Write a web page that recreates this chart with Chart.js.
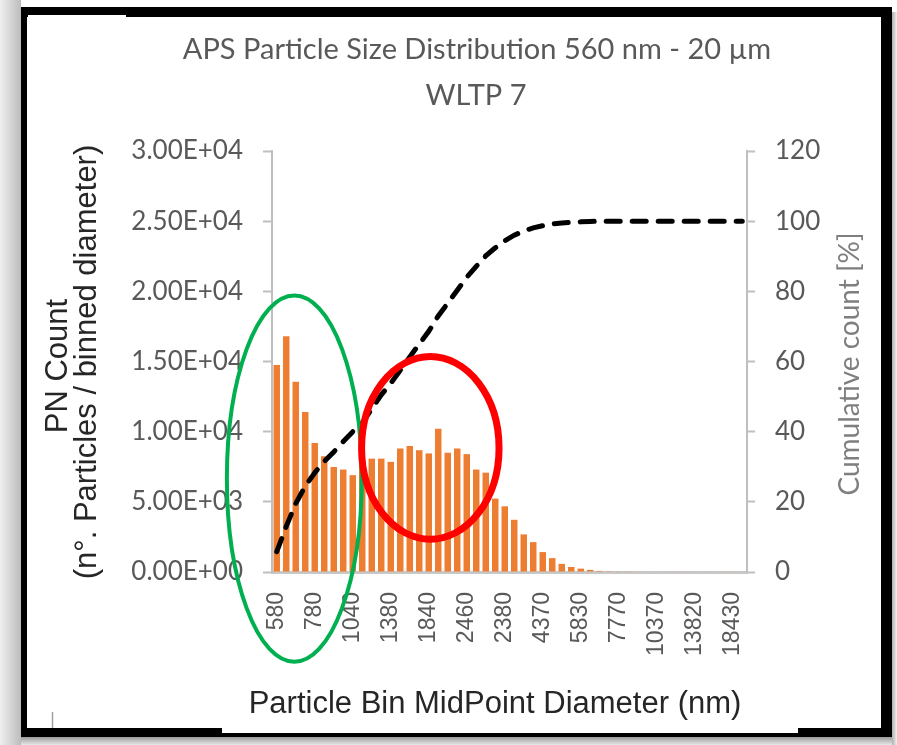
<!DOCTYPE html>
<html>
<head>
<meta charset="utf-8">
<script src="https://cdn.jsdelivr.net/npm/chart.js@4.4.1/dist/chart.umd.min.js"></script>
<style>
html, body { margin: 0; padding: 0; background: #fff; }
#wrap { position: relative; width: 897px; height: 745px; }
</style>
</head>
<body>
<div id="wrap"><canvas id="myGraficoAPS"></canvas></div>
<script>
// bin midpoints (nm) - every 4th one is shown on the axis
var binLabels = ["580","630","670","720","780","840","900","970","1040","1110",
  "1200","1290","1380","1490","1600","1720","1840","1980","2130","2290",
  "2460","2640","2840","3050","2380","3520","3790","4070","4370","4700",
  "5050","5430","5830","6260","6730","7230","7770","8350","8980","9650",
  "10370","11140","11970","12860","13820","14860","15960","17150","18430","19810"];

// PN count per bin
var pnCount = [14750,16800,13550,11400,9200,8250,7480,7300,6900,7600,
  8080,8080,7850,8800,8980,8680,8450,10200,8500,8800,
  8400,7300,7080,5230,4680,3720,2680,2130,1420,990,
  580,360,240,150,80,60,50,50,40,40,
  40,30,30,30,30,30,30,30,30,30];

// cumulative count [%]
var cumCount = [5.8,13,19.5,24.5,28.3,31.5,34.2,37.2,40,42.5,
  46.5,50.5,53.8,57.5,61.3,65,68.6,73,76.6,80.3,
  84,87.1,90.1,92.4,94.4,96,97.2,98.1,98.7,99.2,
  99.5,99.7,99.8,99.9,100,100,100,100,100,100,
  100,100,100,100,100,100,100,100,100,100];

var chartTitle = ["APS Particle Size Distribution 560 nm - 20 \u00b5m", "WLTP 7"];
var yTitle = ["PN Count", "(n\u00b0. Particles / binned diameter)"];
var y1Title = "Cumulative count [%]";
var xTitle = "Particle Bin MidPoint Diameter (nm)";

function sci(v) {
    if (v === 0) return "0.00E+00";
    var e = Math.floor(Math.log10(v));
    var m = v / Math.pow(10, e);
    return m.toFixed(2) + "E+" + String(e).padStart(2, "0");
}

var calibriLike = "Lato, 'Open Sans', sans-serif";
var arialLike = "'Liberation Sans', Arial, sans-serif";

var framePlugin = {
    id: 'frame',
    beforeDraw: function(chart) {
        var ctx = chart.ctx;
        ctx.save();
        ctx.fillStyle = '#ffffff';
        ctx.fillRect(0, 0, 897, 745);
        // shadow left and bottom
        var g = ctx.createLinearGradient(0, 0, 21, 0);
        g.addColorStop(0, '#efefef');
        g.addColorStop(1, '#bcbcbc');
        ctx.fillStyle = g;
        ctx.fillRect(0, 0, 21, 745);
        var g2 = ctx.createLinearGradient(0, 737, 0, 745);
        g2.addColorStop(0, '#9a9a9a');
        g2.addColorStop(1, '#e8e8e8');
        ctx.fillStyle = g2;
        ctx.fillRect(21, 737, 876, 8);
        var g3 = ctx.createLinearGradient(892, 0, 897, 0);
        g3.addColorStop(0, '#b0b0b0');
        g3.addColorStop(1, '#f0f0f0');
        ctx.fillStyle = g3;
        ctx.fillRect(892, 12, 5, 733);
        // black frame
        ctx.fillStyle = '#000';
        ctx.fillRect(21, 7, 871, 730);
        ctx.fillStyle = '#fff';
        ctx.fillRect(27, 17, 854, 711);
        ctx.fillRect(28, 15, 98, 4);
        ctx.restore();
    },
    afterDraw: function(chart) {
        var ctx = chart.ctx;
        ctx.save();
        // white box under x title, over the bottom border
        ctx.fillStyle = '#fff';
        ctx.fillRect(222, 690, 576, 43);
        ctx.strokeStyle = '#a0a0a0';
        ctx.lineWidth = 1.5;
        ctx.beginPath(); ctx.moveTo(52.5, 712); ctx.lineTo(52.5, 728); ctx.stroke();

        ctx.textAlign = 'center';
        ctx.textBaseline = 'middle';
        ctx.fillStyle = '#595959';
        ctx.font = '29px ' + calibriLike;
        ctx.fillText(chartTitle[0], 477, 50);
        ctx.fillText(chartTitle[1], 476, 96);

        ctx.fillStyle = '#262626';
        ctx.font = '31px ' + arialLike;
        ctx.fillText(xTitle, 495, 704);

        ctx.save();
        ctx.translate(58, 366);
        ctx.rotate(-Math.PI / 2);
        ctx.fillText(yTitle[0], 0, 0);
        ctx.restore();
        ctx.save();
        ctx.translate(87, 362);
        ctx.rotate(-Math.PI / 2);
        ctx.fillText(yTitle[1], 0, 0);
        ctx.restore();

        ctx.fillStyle = '#7f7f7f';
        ctx.font = '28px ' + calibriLike;
        ctx.save();
        ctx.translate(850, 364);
        ctx.rotate(-Math.PI / 2);
        ctx.fillText(y1Title, 0, 0);
        ctx.restore();
        ctx.restore();
    }
};

// circled regions, placed in data units
var ringsPlugin = {
    id: 'rings',
    afterDatasetsDraw: function(chart) {
        var ctx = chart.ctx, x = chart.scales.x, y = chart.scales.y;
        var rings = [
            { x0: -5.25, x1: 8.95, y0: 19700, y1: -6400, color: '#00b050', w: 4 },
            { x0: 8.93, x1: 23.4, y0: 15350, y1: 2340, color: '#ff0000', w: 7 }
        ];
        ctx.save();
        rings.forEach(function(r) {
            var l = x.getPixelForValue(r.x0), rt = x.getPixelForValue(r.x1);
            var t = y.getPixelForValue(r.y0), b = y.getPixelForValue(r.y1);
            ctx.beginPath();
            ctx.ellipse((l + rt) / 2, (t + b) / 2, (rt - l) / 2, (b - t) / 2, 0, 0, Math.PI * 2);
            ctx.strokeStyle = r.color;
            ctx.lineWidth = r.w;
            ctx.stroke();
        });
        ctx.restore();
    }
};

var ctx = document.getElementById('myGraficoAPS').getContext('2d');
var chart = new Chart(ctx, {
    type: 'bar',
    data: {
        labels: binLabels,
        datasets: [{
            type: 'line',
            label: 'Cumulative',
            data: cumCount,
            yAxisID: 'y1',
            borderColor: '#000000',
            borderWidth: 5,
            borderDash: [14, 12],
            borderCapStyle: 'round',
            pointRadius: 0,
            tension: 0,
            fill: false,
            order: 0
        }, {
            label: 'PN Count',
            data: pnCount,
            yAxisID: 'y',
            backgroundColor: '#ED7D31',
            categoryPercentage: 1.0,
            barPercentage: 0.68,
            order: 1
        }]
    },
    options: {
        responsive: true,
        maintainAspectRatio: false,
        animation: false,
        layout: { padding: { top: 151, left: 0, right: 0, bottom: 0 } },
        plugins: {
            legend: { display: false },
            tooltip: { enabled: false }
        },
        scales: {
            x: {
                grid: { display: false, drawTicks: false },
                border: { display: true, color: '#c8c8c8', width: 3 },
                ticks: {
                    autoSkip: false,
                    minRotation: 90,
                    maxRotation: 90,
                    padding: 20,
                    color: '#595959',
                    font: { family: arialLike, size: 23 },
                    callback: function(val, idx) { return idx % 4 === 0 ? binLabels[idx] : ''; }
                },
                afterFit: function(s) { s.height = 173; }
            },
            y: {
                position: 'left',
                min: 0, max: 30000,
                ticks: {
                    stepSize: 5000,
                    padding: 20,
                    color: '#595959',
                    font: { family: calibriLike, size: 26 },
                    callback: function(v) { return sci(v); }
                },
                grid: { drawOnChartArea: false, drawTicks: true, tickLength: 9, color: '#bfbfbf', tickWidth: 2 },
                border: { display: true, color: '#bfbfbf', width: 2 },
                afterFit: function(s) { s.width = 272; }
            },
            y1: {
                position: 'right',
                min: 0, max: 120,
                ticks: {
                    stepSize: 20,
                    padding: 20,
                    color: '#595959',
                    font: { family: calibriLike, size: 26 }
                },
                grid: { drawOnChartArea: false, drawTicks: true, tickLength: 8, color: '#bfbfbf', tickWidth: 2 },
                border: { display: true, color: '#bfbfbf', width: 2 },
                afterFit: function(s) { s.width = 150; }
            }
        }
    },
    plugins: [framePlugin, ringsPlugin]
});
</script>
</body>
</html>
